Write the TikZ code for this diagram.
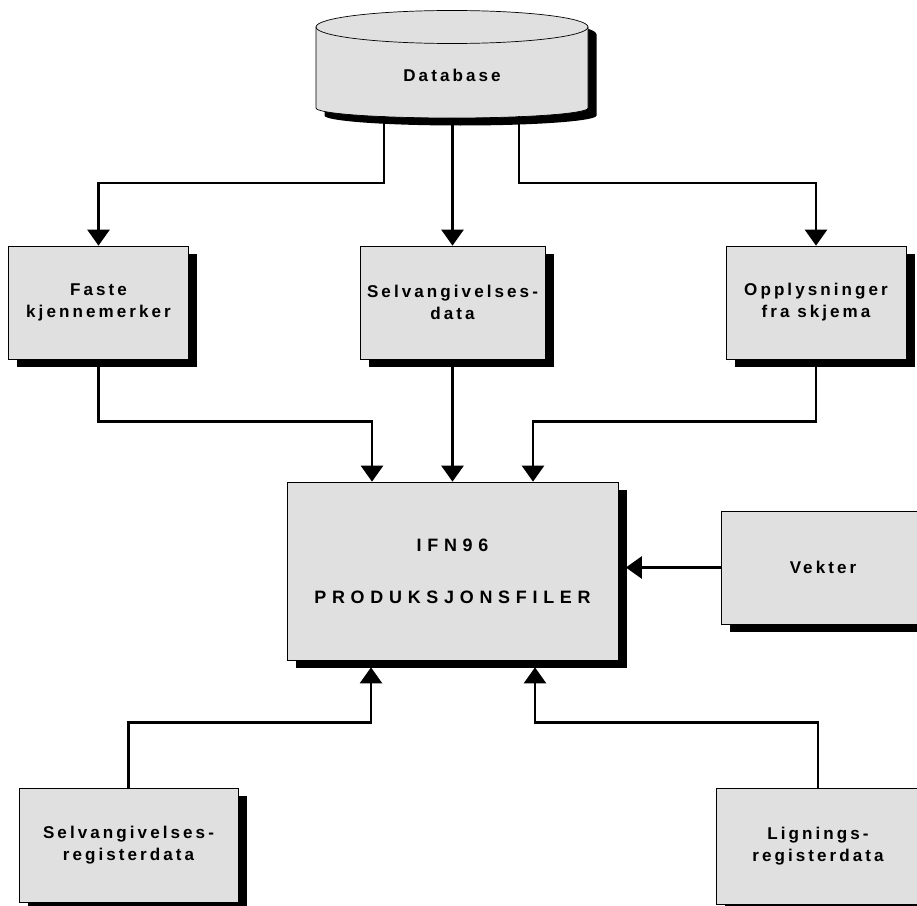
\documentclass[tikz,border=0pt]{standalone}
\usepackage{fontspec}
\usepackage{tikz}
\usetikzlibrary{arrows.meta,shadows}
\newfontfamily\boksfont[LetterSpace=18]{Liberation Sans}
\newfontfamily\hovedfont[LetterSpace=32]{Liberation Sans}

\begin{document}
\begin{tikzpicture}[
    boks/.style={
      rectangle,
      draw,
      thin,
      fill=black!12,
      minimum width=3.6cm,
      minimum height=2.26cm,
      align=center,
      font=\boksfont\bfseries\fontsize{9.7}{12.5}\selectfont,
      drop shadow={shadow xshift=.17cm, shadow yshift=-.15cm, fill=black, opacity=1}},
    tekst/.style={
      font=\boksfont\bfseries\fontsize{9.7}{12.5}\selectfont},
    pil/.style={
      line width=1.5pt,
      -{Triangle[width=.44cm,length=.32cm]}}
    ]

  \useasboundingbox (0,0) rectangle (18.34,-18.1);

  % sylinderen
  \fill[black, xshift=.17cm, yshift=-.15cm] (6.32,-.54) arc[start angle=180, end angle=0, x radius=2.72, y radius=.33]
    -- (11.76,-2.16) arc[start angle=0, end angle=-180, x radius=2.72, y radius=.2] -- cycle;
  \filldraw[thin, fill=black!12] (6.32,-.54) arc[start angle=180, end angle=0, x radius=2.72, y radius=.33]
    -- (11.76,-2.16) arc[start angle=0, end angle=-180, x radius=2.72, y radius=.2] -- cycle;
  \draw[thin] (6.32,-.54) arc[start angle=180, end angle=360, x radius=2.72, y radius=.33];

  \node at (9.04,-1.5) (database) [tekst] {Database};
  \coordinate (dbV) at (7.68,-2.32);
  \coordinate (dbM) at (9.05,-2.35);
  \coordinate (dbH) at (10.38,-2.32);

  \node at (1.97,-6.05) (faste) [boks] {Faste\\kjennemerker};
  \node at (9.05,-6.05) (selvdata) [boks, minimum width=3.7cm] {Selvangivelses-\\data};
  \node at (16.32,-6.05) (opplys) [boks] {Opplysninger\\fra skjema};

  \node at (9.05,-11.42) (main) [boks, minimum width=6.62cm, minimum height=3.56cm,
    font=\hovedfont\bfseries\fontsize{10.2}{29.5}\selectfont] {IFN96\\PRODUKSJONSFILER};
  \node at (16.46,-11.35) (vekter) [boks, minimum width=4.08cm] {Vekter};

  \node at (2.57,-16.9) (selvreg) [boks, minimum width=4.38cm, minimum height=2.28cm] {Selvangivelses-\\registerdata};
  \node at (16.36,-16.92) (lignings) [boks, minimum width=4.08cm, minimum height=2.32cm] {Lignings-\\registerdata};

  \coordinate (mainR) at ([xshift=.15cm]main.east);
  \coordinate (mainB) at ([yshift=-.14cm]main.south);

  % fra databasen
  \draw[pil] (dbV) -- ++(0,-1.34) -| (faste.north);
  \draw[pil] (dbM) -- (selvdata.north);
  \draw[pil] (dbH) -- ++(0,-1.34) -| (opplys.north);

  % inn til produksjonsfilene
  \draw[pil] (faste.south) -- ++(0,-1.24) -| ([xshift=-1.61cm]main.north);
  \draw[pil] (selvdata.south) -- (main.north);
  \draw[pil] (opplys.south) -- ++(0,-1.24) -| ([xshift=1.61cm]main.north);
  \draw[pil] (vekter.west) -- (vekter.west -| mainR);
  \draw[pil] (selvreg.north) -- ++(0,1.3) -| ([xshift=-1.63cm]mainB);
  \draw[pil] (lignings.north) -- ++(0,1.3) -| ([xshift=1.65cm]mainB);

\end{tikzpicture}
\end{document}
